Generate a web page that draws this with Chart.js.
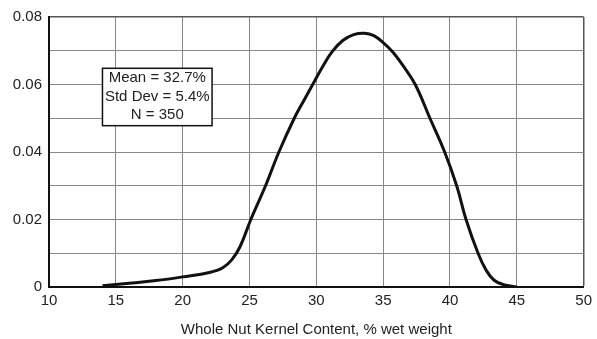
<!DOCTYPE html>
<html>
<head>
<meta charset="utf-8">
<script src="https://cdn.jsdelivr.net/npm/chart.js@4.4.0/dist/chart.umd.min.js"></script>
<style>
  html, body { margin: 0; padding: 0; background: #fff; }
  #wrap { width: 597px; height: 339px; }
</style>
</head>
<body>
<div id="wrap"><canvas id="myChart" width="597" height="339"></canvas></div>
<script>
// kernel content (%) and density
var kernelPct = [14, 16, 18, 20, 22, 23, 23.7, 24.3, 25.1, 26.2, 27.2, 28.35, 29.1, 29.8, 30.5, 31.2, 32, 32.8, 33.6, 34.3, 35, 35.7, 36.5, 37.4, 38.5, 39.6, 40.5, 41.2, 42.1, 42.7, 43.3, 44, 45];
var density = [0.0004, 0.0011, 0.0019, 0.003, 0.0043, 0.0057, 0.0082, 0.012, 0.02, 0.03, 0.04, 0.05, 0.0555, 0.0605, 0.0655, 0.0698, 0.0731, 0.0748, 0.0752, 0.0745, 0.0724, 0.0697, 0.0655, 0.06, 0.05, 0.04, 0.03, 0.02, 0.01, 0.005, 0.002, 0.0007, 0];

var statLines = ['Mean = 32.7%', 'Std Dev = 5.4%', 'N = 350'];
var xTitle = 'Whole Nut Kernel Content, % wet weight';

var points = kernelPct.map(function(x, i) { return { x: x, y: density[i] }; });

var FONT = '"Liberation Sans", Arial, sans-serif';
var TXT = '#222';

// white box with the summary stats
var statBox = {
  id: 'statBox',
  afterDraw: function(chart) {
    var ctx = chart.ctx;
    var xs = chart.scales.x, ys = chart.scales.y;
    var left = xs.getPixelForValue(14.0);
    var right = xs.getPixelForValue(22.2);
    var top = ys.getPixelForValue(0.0648);
    var bottom = ys.getPixelForValue(0.0478);
    ctx.save();
    ctx.fillStyle = '#fff';
    ctx.fillRect(left, top, right - left, bottom - top);
    ctx.strokeStyle = '#111';
    ctx.lineWidth = 1.5;
    ctx.strokeRect(left, top, right - left, bottom - top);
    ctx.fillStyle = TXT;
    ctx.font = '15px ' + FONT;
    ctx.textAlign = 'center';
    ctx.textBaseline = 'middle';
    var cx = (left + right) / 2;
    statLines.forEach(function(s, i) {
      ctx.fillText(s, cx, top + 10 + i * 18.5);
    });
    ctx.restore();
  }
};

var chart = new Chart(document.getElementById('myChart').getContext('2d'), {
  type: 'line',
  data: {
    datasets: [{
      data: points,
      borderColor: '#111',
      borderWidth: 3,
      pointRadius: 0,
      fill: false,
      tension: 0.4
    }]
  },
  options: {
    responsive: false,
    animation: false,
    layout: { padding: { top: 17, right: 11, left: 0, bottom: 0 } },
    plugins: { legend: { display: false }, tooltip: { enabled: false } },
    scales: {
      x: {
        type: 'linear',
        min: 10, max: 50,
        ticks: { stepSize: 5, padding: 5, color: TXT, font: { family: FONT, size: 15 }, maxRotation: 0 },
        grid: {
          drawTicks: false,
          color: function(c) { return c.tick && c.tick.value === 50 ? '#555' : '#888'; },
          lineWidth: function(c) { return c.tick && c.tick.value === 50 ? 1.5 : 1; }
        },
        border: { color: '#111', width: 2 },
        title: { display: true, text: xTitle, color: TXT, font: { family: FONT, size: 15 }, padding: { top: 6, bottom: 0 } },
        afterFit: function(s) { s.height = 52; }
      },
      y: {
        min: 0, max: 0.08,
        ticks: {
          stepSize: 0.01, padding: 7, color: TXT, font: { family: FONT, size: 15 },
          callback: function(v) {
            var k = Math.round(v * 100);
            if (k % 2 !== 0) return '';
            return k === 0 ? '0' : (k / 100).toFixed(2);
          }
        },
        grid: {
          drawTicks: false,
          color: function(c) { return c.tick && Math.round(c.tick.value * 100) === 8 ? '#555' : '#888'; },
          lineWidth: function(c) { return c.tick && Math.round(c.tick.value * 100) === 8 ? 1.5 : 1; }
        },
        border: { color: '#111', width: 2 },
        afterFit: function(s) { s.width = 49; }
      }
    }
  },
  plugins: [statBox]
});
</script>
</body>
</html>
